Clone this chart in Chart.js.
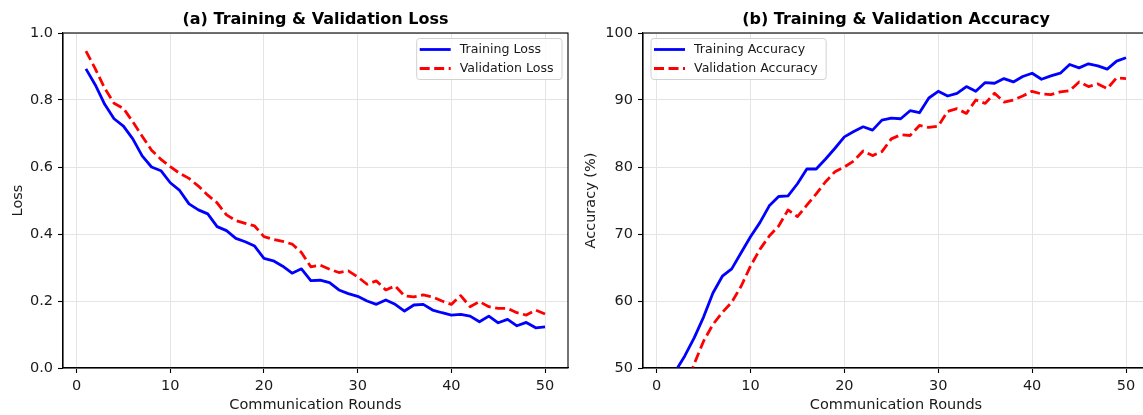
<!DOCTYPE html>
<html>
<head>
<meta charset="utf-8">
<script src="https://cdn.jsdelivr.net/npm/chart.js@4.4.1/dist/chart.umd.min.js"></script>
<style>
html,body{margin:0;padding:0;background:#fff;overflow:hidden;width:1143px;height:415px;}
#wrap{position:relative;width:1143px;height:415px;overflow:hidden;background:#fff;}
canvas{position:absolute;top:0;}
#c1{left:0;}
#c2{left:580px;}
</style>
</head>
<body>
<div id="wrap">
<canvas id="c1" width="600" height="415"></canvas>
<canvas id="c2" width="580" height="415"></canvas>
</div>
<script>
// ---- data ----
const rounds = [1,2,3,4,5,6,7,8,9,10,11,12,13,14,15,16,17,18,19,20,21,22,23,24,25,26,27,28,29,30,31,32,33,34,35,36,37,38,39,40,41,42,43,44,45,46,47,48,49,50];

const trainLoss = [0.893,0.845,0.787,0.744,0.722,0.684,0.633,0.600,0.589,0.553,0.530,0.490,0.472,0.460,0.422,0.410,0.387,0.377,0.364,0.327,0.320,0.304,0.283,0.296,0.261,0.262,0.255,0.233,0.222,0.214,0.200,0.190,0.203,0.190,0.170,0.188,0.190,0.173,0.165,0.158,0.160,0.155,0.138,0.155,0.135,0.145,0.126,0.136,0.120,0.123];

const valLoss = [0.946,0.893,0.835,0.790,0.775,0.735,0.692,0.650,0.623,0.601,0.581,0.566,0.543,0.516,0.493,0.457,0.440,0.432,0.424,0.392,0.384,0.378,0.370,0.345,0.302,0.307,0.295,0.285,0.290,0.272,0.250,0.260,0.233,0.245,0.215,0.212,0.218,0.212,0.200,0.190,0.216,0.183,0.198,0.183,0.178,0.178,0.165,0.158,0.173,0.161];

const trainAcc = [46.5,49.5,51.8,54.5,57.6,61.2,63.7,64.8,67.2,69.6,71.7,74.2,75.6,75.7,77.5,79.7,79.7,81.2,82.8,84.5,85.3,86.0,85.5,87.0,87.3,87.2,88.4,88.1,90.3,91.3,90.6,91.0,92.0,91.3,92.6,92.5,93.2,92.7,93.5,94.0,93.1,93.6,94.0,95.3,94.8,95.4,95.1,94.6,95.8,96.3];

const valAcc = [41.0,44.0,46.7,50.6,54.0,56.5,58.3,59.8,62.2,65.2,67.7,69.7,71.2,73.6,72.6,74.3,76.0,77.8,79.3,80.0,80.9,82.4,81.7,82.3,84.2,84.8,84.7,86.2,85.9,86.1,88.3,88.7,88.0,90.0,89.5,91.0,89.7,90.0,90.6,91.3,90.9,90.8,91.2,91.4,92.7,92.0,92.4,91.7,93.3,93.2];

const xTicks = [0,10,20,30,40,50];
const lossTicks = [0.0,0.2,0.4,0.6,0.8,1.0];
const accTicks = [50,60,70,80,90,100];

// ---- styling / plugins ----
const FONT = '"DejaVu Sans", "Liberation Sans", sans-serif';
Chart.defaults.font.family = FONT;
const TXT = '#1a1a1a';

const panelTitle = {
  id: 'panelTitle',
  afterDraw(chart, args, opts) {
    const {ctx, chartArea: a} = chart;
    ctx.save();
    ctx.font = 'bold 16px ' + FONT;
    ctx.fillStyle = '#000';
    ctx.textAlign = 'center';
    ctx.textBaseline = 'alphabetic';
    ctx.fillText(opts.text, (a.left + a.right) / 2, 24);
    ctx.restore();
  }
};

const frame = {
  id: 'frame',
  afterDatasetsDraw(chart) {
    const {ctx, chartArea: a} = chart;
    ctx.save();
    ctx.strokeStyle = '#000';
    ctx.lineWidth = 1.1;
    ctx.strokeRect(a.left, a.top, a.right - a.left, a.bottom - a.top);
    ctx.restore();
  }
};

const boxLegend = {
  id: 'boxLegend',
  afterDraw(chart, args, opts) {
    const {ctx, chartArea: a} = chart;
    const items = chart.data.datasets;
    ctx.save();
    ctx.font = '12.6px ' + FONT;
    const tw = Math.max(...items.map(d => ctx.measureText(d.label).width));
    const w = 43 + tw + 8.5;
    const h = 41;
    const x = opts.align === 'left' ? a.left + 8 : a.right - 6 - w;
    const y = a.top + 5.5;
    ctx.beginPath();
    if (ctx.roundRect) ctx.roundRect(x, y, w, h, 3); else ctx.rect(x, y, w, h);
    ctx.fillStyle = 'rgba(255,255,255,0.85)';
    ctx.fill();
    ctx.strokeStyle = '#d2d2d2';
    ctx.lineWidth = 1;
    ctx.stroke();
    items.forEach((d, i) => {
      const cy = y + 11 + i * 19;
      ctx.beginPath();
      ctx.setLineDash(d.borderDash || []);
      ctx.strokeStyle = d.borderColor;
      ctx.lineWidth = d.borderWidth;
      ctx.moveTo(x + 3, cy);
      ctx.lineTo(x + 34, cy);
      ctx.stroke();
      ctx.setLineDash([]);
      ctx.fillStyle = TXT;
      ctx.textAlign = 'left';
      ctx.textBaseline = 'middle';
      ctx.fillText(d.label, x + 43, cy);
    });
    ctx.restore();
  }
};

function makeChart(id, cfg) {
  const mk = (vals) => rounds.map((r, i) => ({x: r, y: vals[i]}));
  return new Chart(document.getElementById(id), {
    type: 'line',
    data: {
      datasets: [
        {label: cfg.labels[0], data: mk(cfg.s1), borderColor: '#0000ff', backgroundColor: '#0000ff',
         borderWidth: 2.8, pointRadius: 0, tension: 0, borderJoinStyle: 'round', clip: 0},
        {label: cfg.labels[1], data: mk(cfg.s2), borderColor: '#ff0000', backgroundColor: '#ff0000',
         borderWidth: 2.8, borderDash: [10, 4.5], pointRadius: 0, tension: 0, borderJoinStyle: 'round', clip: 0}
      ]
    },
    options: {
      responsive: false,
      animation: false,
      events: [],
      layout: {padding: {top: 33, right: cfg.padRight, left: 0, bottom: 0}},
      plugins: {
        legend: {display: false},
        tooltip: {enabled: false},
        panelTitle: {text: cfg.title},
        boxLegend: {align: cfg.legendAlign}
      },
      scales: {
        x: {
          type: 'linear', min: -1.45, max: 52.45,
          afterBuildTicks: s => { s.ticks = xTicks.map(v => ({value: v})); },
          afterFit: s => { s.height = 47; },
          ticks: {padding: 5, color: TXT, font: {size: 14.5}, maxRotation: 0, autoSkip: false,
                  callback: v => String(v)},
          grid: {color: '#e4e4e4', lineWidth: 1, tickLength: 5, tickColor: '#000', tickWidth: 1.1},
          border: {display: true, color: '#000', width: 1.1},
          title: {display: true, text: 'Communication Rounds', color: TXT, font: {size: 14.5},
                  padding: {top: 0, bottom: 1}}
        },
        y: {
          type: 'linear', min: cfg.ymin, max: cfg.ymax,
          afterBuildTicks: s => { s.ticks = cfg.yTicks.map(v => ({value: v})); },
          afterFit: s => { s.width = 63; },
          ticks: {padding: 5, color: TXT, font: {size: 14.5}, autoSkip: false, callback: cfg.fmt},
          grid: {color: '#e4e4e4', lineWidth: 1, tickLength: 5, tickColor: '#000', tickWidth: 1.1},
          border: {display: true, color: '#000', width: 1.1},
          title: {display: true, text: cfg.ytitle, color: TXT, font: {size: 14.5},
                  padding: {top: cfg.ytPad, bottom: 0}}
        }
      }
    },
    plugins: [frame, panelTitle, boxLegend]
  });
}

makeChart('c1', {
  title: '(a) Training & Validation Loss',
  labels: ['Training Loss', 'Validation Loss'],
  s1: trainLoss, s2: valLoss,
  ymin: 0, ymax: 1.0, yTicks: lossTicks,
  fmt: v => Number(v).toFixed(1),
  ytitle: 'Loss', ytPad: 9.8, padRight: 32, legendAlign: 'right'
});

makeChart('c2', {
  title: '(b) Training & Validation Accuracy',
  labels: ['Training Accuracy', 'Validation Accuracy'],
  s1: trainAcc, s2: valAcc,
  ymin: 50, ymax: 100, yTicks: accTicks,
  fmt: v => String(v),
  ytitle: 'Accuracy (%)', ytPad: 2.8, padRight: 11, legendAlign: 'left'
});
</script>
</body>
</html>
